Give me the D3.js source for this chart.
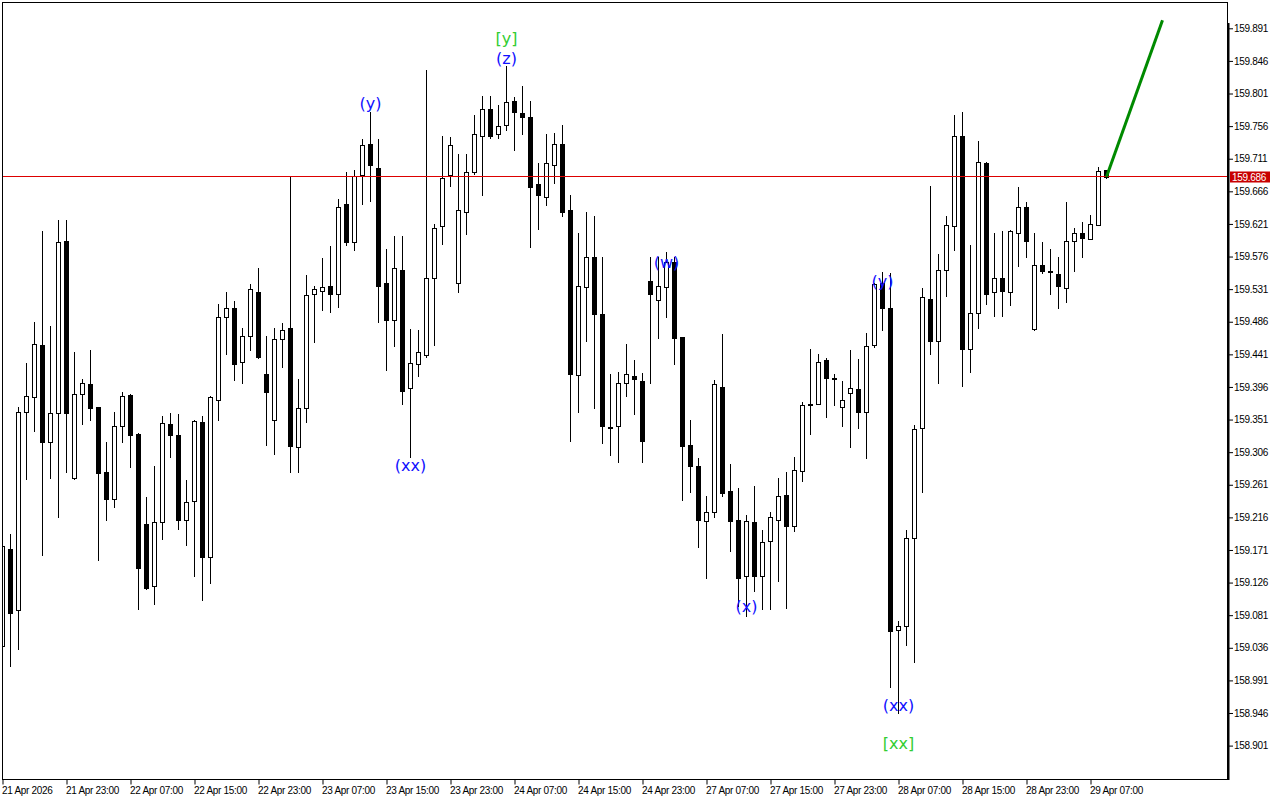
<!DOCTYPE html>
<html><head><meta charset="utf-8">
<script src="https://cdn.jsdelivr.net/npm/d3@7"></script>
<style>
html,body{margin:0;padding:0;background:#fff;}
svg{display:block;}
.ax text{font-family:"Liberation Sans",Arial,sans-serif;font-size:10px;fill:#000;letter-spacing:-0.3px;}
</style></head>
<body><svg id="c" width="1280" height="800"></svg>
<script>
// Hourly candles, 21 Apr 2026 15:00 .. 29 Apr 2026 09:00
const open = [
159.038,159.173,159.088,159.362,159.382,159.454,159.320,159.360,159.597,159.270,
159.386,159.400,159.369,159.278,159.242,159.342,159.385,159.331,159.207,159.121,
159.209,159.345,159.329,159.212,159.238,159.347,159.161,159.378,159.492,159.505,
159.430,159.466,159.527,159.414,159.350,159.462,159.477,159.313,159.367,159.524,
159.529,159.535,159.524,159.648,159.596,159.688,159.732,159.698,159.540,159.488,
159.558,159.394,159.427,159.440,159.546,159.618,159.688,159.539,159.638,159.692,
159.743,159.779,159.745,159.757,159.790,159.774,159.768,159.676,159.658,159.703,
159.732,159.640,159.412,159.534,159.576,159.496,159.341,159.342,159.401,159.411,
159.404,159.542,159.516,159.534,159.569,159.465,159.316,159.287,159.211,159.223,
159.396,159.252,159.213,159.135,159.209,159.135,159.183,159.212,159.247,159.204,
159.280,159.371,159.373,159.433,159.408,159.368,159.387,159.393,159.362,159.454,
159.540,159.505,159.060,159.066,159.187,159.340,159.517,159.459,159.557,159.618,
159.743,159.449,159.498,159.705,159.527,159.546,159.527,159.608,159.644,159.476,
159.564,159.556,159.552,159.532,159.597,159.608,159.600,159.619,159.695];
const high = [
159.186,159.193,159.369,159.429,159.485,159.611,159.480,159.626,159.626,159.444,
159.407,159.447,159.369,159.320,159.362,159.389,159.386,159.333,159.244,159.287,
159.356,159.360,159.358,159.267,159.350,159.356,159.383,159.510,159.527,159.514,
159.478,159.538,159.560,159.466,159.477,159.484,159.687,159.407,159.551,159.536,
159.574,159.590,159.655,159.692,159.695,159.738,159.775,159.738,159.587,159.604,
159.604,159.476,159.474,159.834,159.621,159.743,159.741,159.717,159.718,159.772,
159.797,159.797,159.785,159.839,159.796,159.812,159.790,159.705,159.745,159.746,
159.757,159.661,159.609,159.638,159.632,159.576,159.414,159.416,159.455,159.433,
159.415,159.576,159.576,159.582,159.575,159.465,159.351,159.298,159.245,159.405,
159.469,159.289,159.256,159.219,159.259,159.198,159.223,159.271,159.278,159.299,
159.375,159.448,159.441,159.436,159.414,159.404,159.447,159.434,159.471,159.540,
159.554,159.553,159.073,159.198,159.343,159.532,159.673,159.579,159.632,159.772,
159.775,159.592,159.736,159.706,159.609,159.611,159.612,159.672,159.651,159.608,
159.596,159.587,159.576,159.651,159.616,159.623,159.633,159.699,159.696];
const low = [
159.034,159.011,159.035,159.269,159.335,159.164,159.270,159.216,159.278,159.269,
159.345,159.350,159.157,159.212,159.231,159.320,159.285,159.089,159.117,159.097,
159.186,159.299,159.200,159.178,159.135,159.102,159.126,159.351,159.442,159.405,
159.401,159.447,159.436,159.316,159.303,159.423,159.278,159.278,159.347,159.458,
159.502,159.500,159.507,159.592,159.585,159.649,159.652,159.485,159.420,159.452,
159.373,159.299,159.411,159.438,159.454,159.593,159.674,159.527,159.607,159.690,
159.661,159.739,159.739,159.750,159.723,159.745,159.589,159.614,159.647,159.677,
159.632,159.321,159.361,159.459,159.367,159.318,159.302,159.293,159.383,159.358,
159.293,159.402,159.463,159.492,159.427,159.240,159.251,159.175,159.133,159.216,
159.245,159.169,159.093,159.080,159.115,159.089,159.089,159.128,159.091,159.197,
159.266,159.331,159.372,159.354,159.371,159.342,159.313,159.340,159.298,159.451,
159.474,158.982,158.946,159.040,159.016,159.251,159.441,159.402,159.521,159.585,
159.398,159.416,159.478,159.511,159.494,159.494,159.509,159.563,159.576,159.474,
159.553,159.524,159.505,159.513,159.556,159.575,159.600,159.619,159.684];
const close = [
159.176,159.084,159.362,159.383,159.455,159.320,159.360,159.596,159.360,159.386,
159.401,159.367,159.277,159.242,159.342,159.383,159.329,159.146,159.118,159.209,
159.346,159.329,159.212,159.237,159.349,159.161,159.382,159.492,159.505,159.427,
159.466,159.531,159.437,159.389,159.462,159.474,159.314,159.367,159.523,159.531,
159.534,159.524,159.644,159.596,159.687,159.730,159.702,159.536,159.488,159.560,
159.391,159.429,159.444,159.547,159.616,159.684,159.730,159.640,159.692,159.745,
159.779,159.743,159.756,159.789,159.775,159.768,159.672,159.661,159.705,159.731,
159.638,159.414,159.535,159.576,159.496,159.342,159.340,159.401,159.414,159.407,
159.322,159.524,159.535,159.568,159.463,159.314,159.287,159.212,159.223,159.400,
159.249,159.211,159.132,159.211,159.135,159.182,159.216,159.245,159.204,159.281,
159.371,159.373,159.431,159.408,159.407,159.378,159.394,159.362,159.452,159.538,
159.505,159.059,159.066,159.187,159.338,159.520,159.460,159.557,159.619,159.742,
159.449,159.498,159.706,159.524,159.547,159.528,159.611,159.644,159.598,159.564,
159.556,159.555,159.535,159.597,159.608,159.601,159.621,159.694,159.686];

const timeLabels = ["21 Apr 2026","21 Apr 23:00","22 Apr 07:00","22 Apr 15:00","22 Apr 23:00",
 "23 Apr 07:00","23 Apr 15:00","23 Apr 23:00","24 Apr 07:00","24 Apr 15:00","24 Apr 23:00",
 "27 Apr 07:00","27 Apr 15:00","27 Apr 23:00","28 Apr 07:00","28 Apr 15:00","28 Apr 23:00","29 Apr 07:00"];
const timeTickIdx = [0,8,16,24,32,40,48,56,64,72,80,88,96,104,112,120,128,136];
const priceTicks = [159.891,159.846,159.801,159.756,159.711,159.666,159.621,159.576,159.531,159.486,
 159.441,159.396,159.351,159.306,159.261,159.216,159.171,159.126,159.081,159.036,158.991,158.946,158.901];
const currentPrice = 159.686;
const waveText  = ["(y)","[y]","(z)","(xx)","(w)","(x)","(y)","(xx)","[xx]"];
const waveIdx   = [46,63,63,51,83,93,110,112,112];
const wavePrice = [159.787,159.877,159.850,159.288,159.568,159.093,159.542,158.957,158.904];
const waveKind  = ["minor","major","minor","minor","minor","minor","minor","minor","major"];
const forecastIdx = [138,145];
const forecastPrice = [159.686,159.902];

const svg = d3.select("#c");
const L=2, R=1227, T=2, B=779;
const x = d3.scaleLinear().domain([0,1]).range([2.5,10.5]);
const y = d3.scaleLinear().domain([158.901,159.891]).range([745.6,28.3]);

svg.append("rect").attr("width",1280).attr("height",800).attr("fill","#fff");
svg.append("clipPath").attr("id","pa").append("rect").attr("x",L).attr("y",T).attr("width",R-L).attr("height",B-T);
const g = svg.append("g").attr("clip-path","url(#pa)");

const idx = d3.range(open.length);
const cg = g.append("g");
idx.forEach(i=>{
  const cx = x(i);
  const up = close[i] >= open[i];
  cg.append("line").attr("x1",cx).attr("x2",cx)
    .attr("y1",Math.round(y(high[i]))).attr("y2",Math.round(y(low[i]))+1)
    .attr("stroke","#000").attr("stroke-width",1);
  const yt = Math.round(y(Math.max(open[i],close[i])));
  const yb = Math.round(y(Math.min(open[i],close[i])));
  cg.append("rect").attr("x",cx-2).attr("y",yt+0.5).attr("width",4).attr("height",Math.max(0,yb-yt))
    .attr("fill",up?"#fff":"#000").attr("stroke","#000").attr("stroke-width",1);
});

// current price line
const cy = Math.round(y(currentPrice)) - 0.5;
g.append("line").attr("x1",L).attr("x2",R).attr("y1",cy).attr("y2",cy)
 .attr("stroke","#dd0000").attr("stroke-width",1).attr("shape-rendering","crispEdges");

// forecast line
g.append("line").attr("x1",x(forecastIdx[0])).attr("y1",y(forecastPrice[0]))
 .attr("x2",x(forecastIdx[1])).attr("y2",y(forecastPrice[1]))
 .attr("stroke","#008a00").attr("stroke-width",3);

// wave labels
waveText.forEach((t,k)=>{
  g.append("text").attr("x",x(waveIdx[k])).attr("y",y(wavePrice[k]))
   .attr("text-anchor","middle").attr("dominant-baseline","central")
   .attr("font-family","DejaVu Sans, sans-serif").attr("font-size","16px")
   .attr("fill",waveKind[k]==="major"?"#32cd32":"#1010ff").text(t);
});

// frame
svg.append("rect").attr("x",L+0.5).attr("y",T+0.5).attr("width",R-L).attr("height",B-T)
 .attr("fill","none").attr("stroke","#000").attr("stroke-width",1);
svg.append("line").attr("x1",R+1.5).attr("x2",R+1.5).attr("y1",23).attr("y2",B+1).attr("stroke","#000").attr("stroke-width",2);

// price axis
const ya = d3.axisRight(y).tickValues(priceTicks).tickFormat(d3.format(".3f")).tickSize(4).tickPadding(1);
const yag = svg.append("g").attr("class","ax").attr("transform",`translate(${R+2},0)`).call(ya);
yag.select(".domain").remove();
yag.selectAll(".tick line").attr("stroke","#000");

// time axis
const xa = d3.axisBottom(x).tickValues(timeTickIdx).tickFormat((d,k)=>timeLabels[k]).tickSize(5).tickPadding(2);
const xag = svg.append("g").attr("class","ax").attr("transform",`translate(0,${B+0.5})`).call(xa);
xag.select(".domain").remove();
xag.selectAll(".tick line").attr("stroke","#000");
xag.selectAll(".tick text").attr("text-anchor","start").attr("dx","-1");

// current price tag
svg.append("rect").attr("x",R+3).attr("y",cy-5).attr("width",40).attr("height",11).attr("fill","#c80000");
svg.append("text").attr("x",R+5).attr("y",cy+0.5).attr("dominant-baseline","central")
 .attr("font-family","Liberation Sans, Arial, sans-serif").attr("font-size","10px").attr("letter-spacing","-0.3px")
 .attr("fill","#fff").text(currentPrice.toFixed(3));
</script></body></html>
